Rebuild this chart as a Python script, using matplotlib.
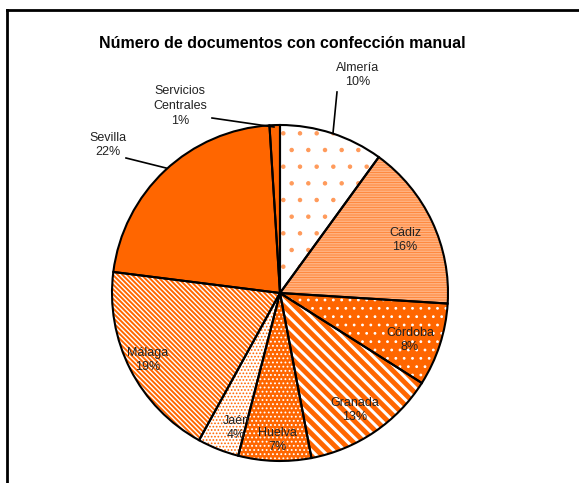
import matplotlib
matplotlib.use("Agg")
import matplotlib.pyplot as plt
from matplotlib.patches import Wedge

plt.rcParams['font.family'] = ['Liberation Sans', 'DejaVu Sans']

# -----------------------------
# Data
# -----------------------------
provincias = ["Almería", "Cádiz", "Córdoba", "Granada", "Huelva", "Jaén",
              "Málaga", "Sevilla", "Servicios\nCentrales"]
porcentajes = [10, 16, 8, 13, 7, 4, 19, 22, 1]

orange = "#FF6600"
# (facecolor, hatch, hatch colour, hatch linewidth) per slice
estilos = [
    ("white", ".", "#FF9A5A", 0.8),
    ("#FFE8D8", "----------", "#FF8A40", 0.9),
    (orange, "..", "white", 0.8),
    ("white", "\\\\\\", orange, 3.5),
    (orange, "....", "white", 0.8),
    ("white", ".....", orange, 0.8),
    ("white", "\\\\\\\\\\\\\\", orange, 1.4),
    (orange, None, orange, 1.0),
    (orange, None, orange, 1.0),
]

# label centres in pixel coords (y from top)
label_pos = [(358, 75), (405, 240), (410, 340), (355, 410), (277, 440),
             (236, 428), (148, 360), (108, 145), (180, 106)]
H = 483

fig = plt.figure(figsize=(5.79, 4.83), dpi=100)
ax = fig.add_axes([0, 0, 1, 1])

wedges, _ = ax.pie(porcentajes, startangle=90, counterclock=False,
                   center=(280, H - 293), radius=168)

for w, (fc, hatch, hc, hlw) in zip(wedges, estilos):
    w.set_facecolor(fc)
    w.set_edgecolor(hc)
    w.set_linewidth(0)
    if hatch:
        w.set_hatch(hatch)
        if hasattr(w, "set_hatch_linewidth"):
            w.set_hatch_linewidth(hlw)
    outline = Wedge(w.center, w.r, w.theta1, w.theta2, fill=False,
                    edgecolor="black", linewidth=1.5)
    ax.add_patch(outline)

for nombre, pct, (x, y) in zip(provincias, porcentajes, label_pos):
    ax.text(x, H - y, f"{nombre}\n{pct}%", ha="center", va="center",
            fontsize=9, color="#222222", linespacing=1.3)

# leader lines for outside labels
ax.plot([337, 333], [H - 92, H - 133], color="black", lw=1.2)
ax.plot([212, 274], [H - 118, H - 127], color="black", lw=1.2)
ax.plot([126, 166], [H - 158, H - 168], color="black", lw=1.2)

ax.text(282, H - 44, "Número de documentos con confección manual",
        ha="center", va="center", fontsize=11.5, fontweight="bold")

# partial frame
ax.plot([7, 579], [H - 10, H - 10], color="black", lw=2)
ax.plot([7, 7], [H - 10, 0], color="black", lw=2)

ax.set_xlim(0, 579)
ax.set_ylim(0, H)
ax.set_aspect("auto")
ax.axis("off")

fig.savefig("out.png", dpi=100)
